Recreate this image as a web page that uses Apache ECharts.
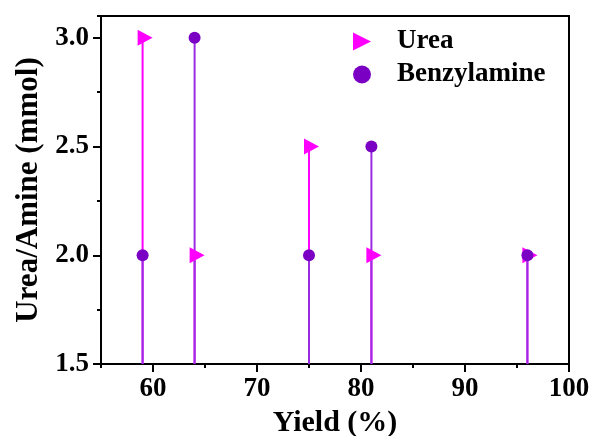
<!DOCTYPE html>
<html>
<head>
<meta charset="utf-8">
<script src="https://cdn.jsdelivr.net/npm/echarts@6/dist/echarts.min.js"></script>
<style>
  html, body { margin: 0; padding: 0; background: #fff; }
  #chart { width: 593px; height: 436px; }
</style>
</head>
<body>
<div id="chart"></div>
<script>
// yield (%) and amount (mmol) for each point
const ureaYield = [59, 64, 75, 81, 96];
const ureaAmount = [3.0, 2.0, 2.5, 2.0, 2.0];
const amineYield = [59, 64, 75, 81, 96];
const amineAmount = [2.0, 3.0, 2.0, 2.5, 2.0];

const yMin = 1.5;
const font = "'Liberation Serif', 'Times New Roman', serif";
const magenta = '#FF00FF';
const purple = '#7A00C4';
const purpleStem = '#9A2BE2';
const triangle = 'path://M0,0 L10,5 L0,10 Z';

const ureaData = ureaYield.map((x, i) => [x, ureaAmount[i]]);
const amineData = amineYield.map((x, i) => [x, amineAmount[i]]);

function stem(color) {
    return function (params, api) {
        const top = api.coord([api.value(0), api.value(1)]);
        const bottom = api.coord([api.value(0), yMin]);
        return {
            type: 'line',
            shape: { x1: top[0], y1: top[1], x2: bottom[0], y2: bottom[1] },
            style: { stroke: color, lineWidth: 2 }
        };
    };
}

const chart = echarts.init(document.getElementById('chart'));
const option = {
    backgroundColor: '#fff',
    animation: false,
    grid: { left: 101, right: 24, top: 16, bottom: 72, outerBoundsMode: 'none', containLabel: false,
        show: true, borderColor: '#000', borderWidth: 2 },
    legend: {
        orient: 'vertical',
        left: 348,
        top: 23,
        itemWidth: 18,
        itemHeight: 18,
        itemGap: 6,
        data: [
            { name: 'Urea', icon: triangle },
            { name: 'Benzylamine', icon: 'circle' }
        ],
        textStyle: { fontFamily: font, fontWeight: 'bold', fontSize: 27, lineHeight: 27, color: '#000', padding: [0, 0, 0, 21] }
    },
    xAxis: [{
        type: 'value',
        min: 55,
        max: 100,
        position: 'bottom',
        name: 'Yield (%)',
        nameLocation: 'middle',
        nameGap: 44,
        nameTextStyle: { fontFamily: font, fontWeight: 'bold', fontSize: 30, color: '#000' },
        axisLine: { lineStyle: { color: '#000', width: 2 } },
        axisTick: { inside: false, length: 8, lineStyle: { color: '#000', width: 2 } },
        axisLabel: { showMinLabel: false, margin: 12, fontFamily: font, fontWeight: 'bold', fontSize: 27, color: '#000' },
        splitLine: { show: false }
    }, {
        type: 'value',
        min: 55,
        max: 100,
        interval: 5,
        position: 'bottom',
        axisLine: { show: false },
        axisTick: { length: 4, lineStyle: { color: '#000', width: 2 } },
        axisLabel: { show: false },
        splitLine: { show: false }
    }],
    yAxis: [{
        type: 'value',
        min: 1.5,
        max: 3.1,
        interval: 0.5,
        position: 'left',
        name: 'Urea/Amine (mmol)',
        nameLocation: 'middle',
        nameGap: 56,
        nameTextStyle: { fontFamily: font, fontWeight: 'bold', fontSize: 31, color: '#000' },
        axisLine: { lineStyle: { color: '#000', width: 2 } },
        axisTick: { length: 8, lineStyle: { color: '#000', width: 2 } },
        axisLabel: { showMaxLabel: false, margin: 12, fontFamily: font, fontWeight: 'bold', fontSize: 27, color: '#000',
            formatter: v => v.toFixed(1) },
        splitLine: { show: false }
    }, {
        type: 'value',
        min: 1.5,
        max: 3.1,
        interval: 0.25,
        position: 'left',
        axisLine: { show: false },
        axisTick: { length: 4, lineStyle: { color: '#000', width: 2 } },
        axisLabel: { show: false },
        splitLine: { show: false }
    }],
    series: [
        { type: 'custom', name: 'ureaStem', renderItem: stem(magenta), data: ureaData, z: 2 },
        { type: 'custom', name: 'amineStem', renderItem: stem(purpleStem), data: amineData, z: 3 },
        {
            type: 'scatter', name: 'Urea', data: ureaData, z: 4,
            symbol: triangle, symbolSize: [15, 16], symbolOffset: [2.5, 0],
            itemStyle: { color: magenta, opacity: 1 }
        },
        {
            type: 'scatter', name: 'Benzylamine', data: amineData, z: 5,
            symbol: 'circle', symbolSize: 12,
            itemStyle: { color: purple, opacity: 1 }
        }
    ]
};
chart.setOption(option);
window.addEventListener('resize', function () { chart.resize(); });
</script>
</body>
</html>
